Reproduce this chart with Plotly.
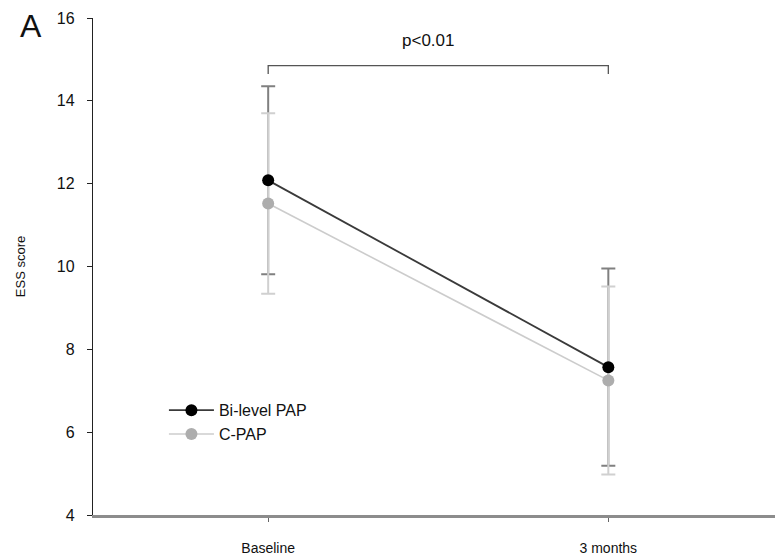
import plotly.graph_objects as go

categories = ["Baseline", "3 months"]
x_pos = [0, 1]
bilevel_mean = [12.08, 7.57]
bilevel_sd = [2.27, 2.38]
cpap_mean = [11.52, 7.25]
cpap_sd = [2.18, 2.27]
y_ticks = [4, 6, 8, 10, 12, 14, 16]
p_text = "p<0.01"

FONT = "Liberation Sans, Arial, sans-serif"

fig = go.Figure()

# Bi-level error bars (drawn first, underneath)
fig.add_trace(go.Scatter(
    x=x_pos, y=bilevel_mean, mode="markers",
    marker=dict(size=1, color="rgba(0,0,0,0)"),
    error_y=dict(type="data", array=bilevel_sd, color="#808080", thickness=2, width=7),
    showlegend=False, hoverinfo="skip"))
# CPAP error bars
fig.add_trace(go.Scatter(
    x=x_pos, y=cpap_mean, mode="markers",
    marker=dict(size=1, color="rgba(0,0,0,0)"),
    error_y=dict(type="data", array=cpap_sd, color="#d0d0d0", thickness=2, width=7),
    showlegend=False, hoverinfo="skip"))
# CPAP line
fig.add_trace(go.Scatter(
    x=x_pos, y=cpap_mean, mode="lines+markers", name="C-PAP",
    line=dict(color="#cccccc", width=1.6),
    marker=dict(size=12, color="#adadad")))
# Bi-level line
fig.add_trace(go.Scatter(
    x=x_pos, y=bilevel_mean, mode="lines+markers", name="Bi-level PAP",
    line=dict(color="#3a3a3a", width=1.8),
    marker=dict(size=12, color="#000000")))

# significance bracket
fig.add_trace(go.Scatter(
    x=[x_pos[0], x_pos[0], x_pos[1], x_pos[1]],
    y=[14.65, 14.85, 14.85, 14.65], mode="lines",
    line=dict(color="#555555", width=1.3),
    showlegend=False, hoverinfo="skip"))

fig.add_annotation(x=(x_pos[0] + x_pos[1]) / 2, y=15.45, text=p_text,
                   showarrow=False, xshift=-10,
                   font=dict(size=17, color="#111111", family=FONT))
fig.add_annotation(xref="paper", yref="paper", x=-0.091, y=0.984, text="A",
                   showarrow=False, xanchor="center", yanchor="middle",
                   font=dict(size=32, color="#111111", family=FONT))

fig.update_layout(
    width=775, height=558,
    margin=dict(l=93, r=0, t=18, b=43),
    plot_bgcolor="white", paper_bgcolor="white",
    font=dict(family=FONT, size=13, color="#111111"),
    legend=dict(x=0.104, y=0.245, xanchor="left", yanchor="top",
                traceorder="reversed", bgcolor="rgba(0,0,0,0)",
                font=dict(size=16), itemwidth=45, tracegroupgap=0),
    xaxis=dict(range=[-0.515, 1.49], tickvals=x_pos, ticktext=categories,
               showgrid=False, zeroline=False, showline=True,
               linecolor="#8c8c8c", linewidth=2.5,
               ticks="outside", ticklen=4, tickcolor="#666666",
               tickfont=dict(size=14),
               ticklabelstandoff=14),
    yaxis=dict(range=[4, 16], tickvals=y_ticks, showgrid=False, zeroline=False,
               showline=True, linecolor="#222222", linewidth=1.3,
               ticks="outside", ticklen=5, tickcolor="#222222",
               tickfont=dict(size=16),
               ticklabelstandoff=9,
               title=dict(text="ESS score", font=dict(size=13), standoff=28)),
)

fig.write_html("out.html")
